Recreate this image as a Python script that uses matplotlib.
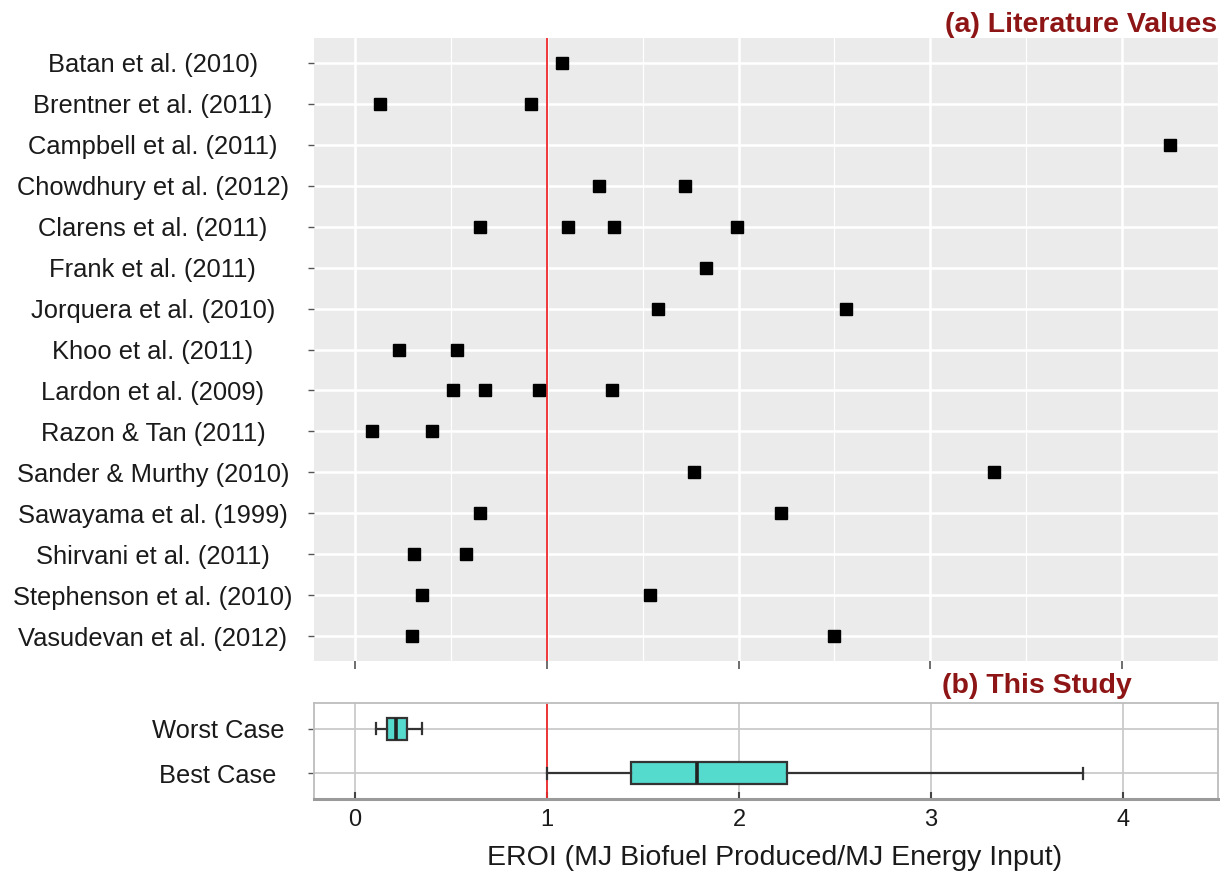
import matplotlib
matplotlib.use("Agg")
import matplotlib.pyplot as plt

plt.rcParams["font.family"] = ["Liberation Sans", "DejaVu Sans"]

# Literature EROI estimates, one list of values per study
studies = [
    "Batan et al. (2010)", "Brentner et al. (2011)", "Campbell et al. (2011)",
    "Chowdhury et al. (2012)", "Clarens et al. (2011)", "Frank et al. (2011)",
    "Jorquera et al. (2010)", "Khoo et al. (2011)", "Lardon et al. (2009)",
    "Razon & Tan (2011)", "Sander & Murthy (2010)", "Sawayama et al. (1999)",
    "Shirvani et al. (2011)", "Stephenson et al. (2010)", "Vasudevan et al. (2012)",
]
batan = [1.08]
brentner = [0.13, 0.92]
campbell = [4.25]
chowdhury = [1.27, 1.72]
clarens = [0.65, 1.11, 1.35, 1.99]
frank = [1.83]
jorquera = [1.58, 2.56]
khoo = [0.23, 0.53]
lardon = [0.51, 0.68, 0.96, 1.34]
razon = [0.09, 0.40]
sander = [1.77, 3.33]
sawayama = [0.65, 2.22]
shirvani = [0.31, 0.58]
stephenson = [0.35, 1.54]
vasudevan = [0.30, 2.50]
study_values = [batan, brentner, campbell, chowdhury, clarens, frank, jorquera,
                khoo, lardon, razon, sander, sawayama, shirvani, stephenson,
                vasudevan]

# This study: box summaries (whisker low, Q1, median, Q3, whisker high)
cases = ["Worst Case", "Best Case"]
worst_case = [0.11, 0.167, 0.214, 0.271, 0.349]
best_case = [1.00, 1.44, 1.78, 2.25, 3.79]

x_ticks = [0, 1, 2, 3, 4]
breakeven = 1.0

W, H = 1220, 877
fig = plt.figure(figsize=(W / 100, H / 100), dpi=100)


def rect(l, t, r, b):
    return [l / W, 1 - b / H, (r - l) / W, (b - t) / H]


xlim = (-0.2135, 4.495)
label_size = 18.4
title_color = "#8E1515"

# ---- (a) literature values ----
ax1 = fig.add_axes(rect(314, 38, 1218, 661))
ax1.set_facecolor("#EBEBEB")
for s in ax1.spines.values():
    s.set_visible(False)
ax1.set_xlim(*xlim)
ax1.set_ylim(len(studies) - 0.4, -0.6)
ax1.set_xticks(x_ticks)
ax1.set_xticks([0.5, 1.5, 2.5, 3.5, 4.5], minor=True)
ax1.set_xticklabels([])
ax1.set_yticks(range(len(studies)))
ax1.set_yticklabels(studies, ha="center", fontsize=label_size, color="#1a1a1a")
ax1.tick_params(axis="y", length=4.5, width=1, color="#555555", pad=111.5)
ax1.tick_params(axis="x", which="major", length=5.5, width=1.2, color="#555555")
ax1.tick_params(axis="x", which="minor", length=0)
ax1.grid(True, which="major", color="white", lw=1.8, zorder=0)
ax1.grid(True, which="minor", axis="x", color="white", lw=0.9, zorder=0)
ax1.set_axisbelow(True)
ax1.axvline(breakeven, color="#F0282A", lw=1.3, zorder=2)
for i, vals in enumerate(study_values):
    ax1.plot(vals, [i] * len(vals), ls="none", marker="s", markersize=8.3,
             color="black", zorder=3)
fig.text(1217 / W, 1 - 32 / H, "(a) Literature Values", ha="right",
         va="baseline", fontsize=20.5, fontweight="bold", color=title_color)

# ---- (b) this study ----
ax2 = fig.add_axes(rect(314, 703, 1218, 799))
ax2.set_facecolor("white")
for s in ax2.spines.values():
    s.set_color("#BDBDBD")
    s.set_linewidth(1.3)
ax2.spines["bottom"].set_color("#9A9A9A")
ax2.spines["bottom"].set_linewidth(2.2)
ax2.set_xlim(*xlim)
ax2.set_ylim(1.59, -0.59)
ax2.set_xticks(x_ticks)
ax2.set_xticklabels([str(t) for t in x_ticks], fontsize=17, color="#1a1a1a")
ax2.set_yticks(range(len(cases)))
ax2.set_yticklabels(cases, ha="center", fontsize=label_size, color="#1a1a1a")
ax2.tick_params(axis="y", length=4.5, width=1, color="#555555", pad=64.5)
ax2.tick_params(axis="x", direction="in", length=5, width=1.5,
                color="#444444", pad=7)
ax2.grid(True, which="major", color="#CACACA", lw=1.3, zorder=0)
ax2.set_axisbelow(True)

stats = []
for name, (lo, q1, med, q3, hi) in zip(cases, [worst_case, best_case]):
    stats.append(dict(label=name, whislo=lo, q1=q1, med=med, q3=q3,
                      whishi=hi, fliers=[]))
ax2.bxp(stats, positions=range(len(cases)), widths=0.5, capwidths=0.25,
        orientation="horizontal", patch_artist=True, manage_ticks=False,
        boxprops=dict(facecolor="#55DACE", edgecolor="#333333", lw=1.6),
        medianprops=dict(color="#222222", lw=2.6),
        whiskerprops=dict(color="#333333", lw=1.6),
        capprops=dict(color="#333333", lw=1.6), zorder=3)
ax2.axvline(breakeven, color="#F0282A", lw=1.3, zorder=2)
fig.text(1132 / W, 1 - 693 / H, "(b) This Study", ha="right",
         va="baseline", fontsize=20.5, fontweight="bold", color=title_color)

fig.text(775 / W, 1 - 858 / H, "EROI (MJ Biofuel Produced/MJ Energy Input)",
         ha="center", va="center", fontsize=20.5, color="#1a1a1a")

fig.savefig("out.png", dpi=100, facecolor="white")
